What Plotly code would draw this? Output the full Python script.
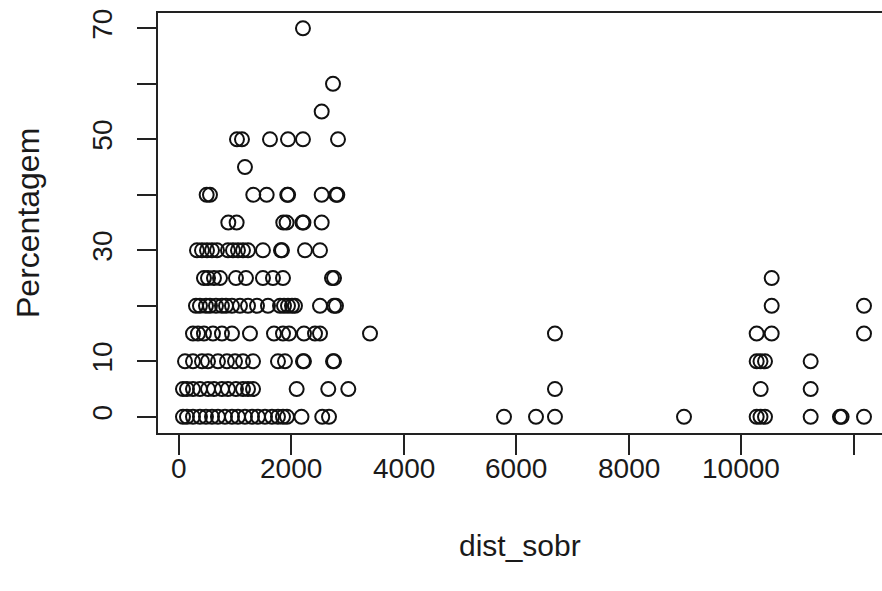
import plotly.graph_objects as go

# dist_sobr values for each Percentagem level
pct_levels = [70, 60, 55, 50, 45, 40, 35, 30, 25, 20, 15, 10, 5, 0]
dist_by_pct = {
    70: [2204],
    60: [2738],
    55: [2537],
    50: [1031, 1120, 1618, 1938, 2204, 2827],
    45: [1173],
    40: [492, 551, 1321, 1559, 1925, 1940, 2537, 2795, 2815],
    35: [877, 1025, 1854, 1913, 2195, 2213, 2537],
    30: [320, 409, 498, 587, 676, 871, 960, 1049, 1138, 1227, 1493, 1813, 1831, 2240, 2507],
    25: [444, 516, 622, 729, 1013, 1191, 1493, 1671, 1849, 2720, 2756, 10537],
    20: [302, 373, 480, 551, 658, 764, 836, 942, 1084, 1227, 1387, 1582, 1796, 1867,
         1938, 2009, 2062, 2507, 2756, 2791, 10537, 12178],
    15: [249, 338, 444, 604, 764, 942, 1262, 1689, 1849, 1956, 2222, 2418, 2507, 3396,
         6684, 10270, 10537, 12178],
    10: [107, 249, 409, 516, 693, 853, 996, 1138, 1316, 1760, 1884, 2204, 2222, 2738, 2756,
         10270, 10338, 10418, 11230],
    5: [71, 142, 249, 373, 516, 622, 764, 871, 1013, 1138, 1227, 1316, 2092, 2654, 3010,
        6684, 10341, 11230],
    0: [71, 142, 249, 373, 480, 587, 693, 818, 942, 1049, 1173, 1298, 1404, 1529, 1653,
        1760, 1849, 1920, 2178, 2547, 2667, 5778, 6347, 6684, 8978,
        10270, 10338, 10418, 11230, 11751, 11780, 12178],
}

x_tick_vals = [0, 2000, 4000, 6000, 8000, 10000, 12000]
x_tick_text = ["0", "2000", "4000", "6000", "8000", "10000", ""]
y_tick_vals = [0, 10, 20, 30, 40, 50, 60, 70]
y_tick_text = ["0", "10", "", "30", "", "50", "", "70"]

xs, ys = [], []
for p in pct_levels:
    for d in dist_by_pct[p]:
        xs.append(d)
        ys.append(p)

FONT = "Liberation Sans, Arial, sans-serif"
FS_TICK = 28
TXT = "#1a1a1a"
AX = "#222222"

fig = go.Figure()
fig.add_trace(go.Scatter(
    x=xs, y=ys, mode="markers",
    marker=dict(symbol="circle-open", size=14, color="#111111",
                line=dict(width=2, color="#111111")),
    showlegend=False, hoverinfo="skip",
))

# x tick labels placed just under the tick ends (at the tick values)
annotations = []
for v, t in zip(x_tick_vals, x_tick_text):
    if t:
        annotations.append(dict(
            text=t, xref="x", yref="paper", x=v, y=0,
            xanchor="center", yanchor="middle", yshift=-35, showarrow=False,
            font=dict(family=FONT, size=FS_TICK, color=TXT)))

annotations += [
    dict(text="dist_sobr", xref="paper", yref="paper", x=0.5, y=0,
         xanchor="center", yanchor="middle", yshift=-112, showarrow=False,
         font=dict(family=FONT, size=30, color=TXT)),
    dict(text="Percentagem", xref="paper", yref="paper", x=0, y=0.5,
         xanchor="center", yanchor="middle", xshift=-130, textangle=-90,
         showarrow=False, font=dict(family=FONT, size=32, color=TXT)),
]

fig.update_layout(
    width=882, height=591,
    margin=dict(l=158, r=0, t=13, b=158, pad=0),
    paper_bgcolor="white", plot_bgcolor="white",
    font=dict(family=FONT, size=FS_TICK, color=TXT),
    xaxis=dict(
        range=[-373, 12498], tickvals=x_tick_vals, showticklabels=False,
        showgrid=False, zeroline=False, showline=True, mirror=True,
        linecolor=AX, linewidth=1.5,
        ticks="outside", ticklen=20, tickwidth=1.5, tickcolor=AX,
    ),
    yaxis=dict(
        range=[-2.92, 72.76], tickvals=y_tick_vals, ticktext=y_tick_text,
        showgrid=False, zeroline=False, showline=True, mirror=False,
        linecolor=AX, linewidth=1.5,
        ticks="outside", ticklen=19, tickwidth=1.5, tickcolor=AX,
        tickangle=-90, ticklabelstandoff=14,
        tickfont=dict(family=FONT, size=FS_TICK, color=TXT),
    ),
    annotations=annotations,
)

fig.write_html("out.html")
